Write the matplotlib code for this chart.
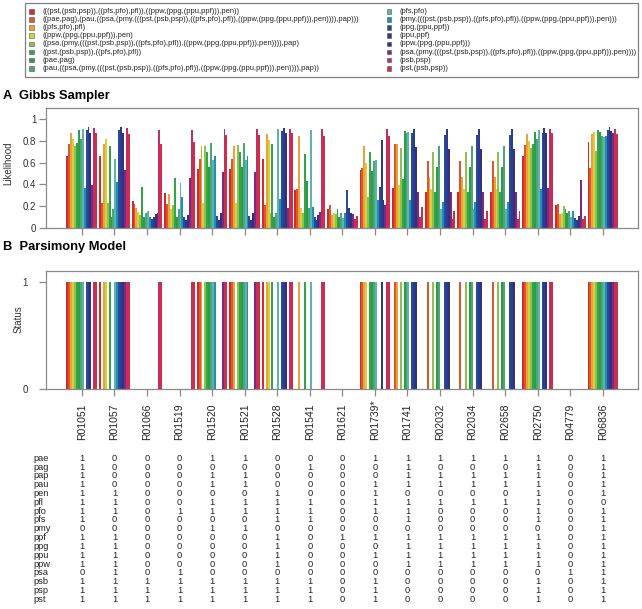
import matplotlib.pyplot as plt
import matplotlib.transforms as mtransforms
from matplotlib.patches import Rectangle

plt.rcParams['font.family'] = ['Liberation Sans', 'DejaVu Sans']

categories = ["R01051", "R01057", "R01066", "R01519", "R01520", "R01521", "R01528", "R01541", "R01621",
              "R01739*", "R01741", "R02032", "R02034", "R02658", "R02750", "R04779", "R06836"]

clades = [
    "(((pst,(psb,psp)),((pfs,pfo),pfl)),((ppw,(ppg,(ppu,ppf))),pen))",
    "((pae,pag),(pau,((psa,(pmy,(((pst,(psb,psp)),((pfs,pfo),pfl)),((ppw,(ppg,(ppu,ppf))),pen)))),pap)))",
    "((pfs,pfo),pfl)",
    "((ppw,(ppg,(ppu,ppf))),pen)",
    "((psa,(pmy,(((pst,(psb,psp)),((pfs,pfo),pfl)),((ppw,(ppg,(ppu,ppf))),pen)))),pap)",
    "((pst,(psb,psp)),((pfs,pfo),pfl))",
    "(pae,pag)",
    "(pau,((psa,(pmy,(((pst,(psb,psp)),((pfs,pfo),pfl)),((ppw,(ppg,(ppu,ppf))),pen)))),pap))",
    "(pfs,pfo)",
    "(pmy,(((pst,(psb,psp)),((pfs,pfo),pfl)),((ppw,(ppg,(ppu,ppf))),pen)))",
    "(ppg,(ppu,ppf))",
    "(ppu,ppf)",
    "(ppw,(ppg,(ppu,ppf)))",
    "(psa,(pmy,(((pst,(psb,psp)),((pfs,pfo),pfl)),((ppw,(ppg,(ppu,ppf))),pen))))",
    "(psb,psp)",
    "(pst,(psb,psp))",
]

colors = ["#d42a2a", "#e0562c", "#e8a33c", "#d9cf3c", "#8cc350", "#35a348", "#2e9a4c", "#48a870",
          "#5cb5aa", "#1f8dbe", "#284a98", "#2c3b8e", "#34307e", "#7a2a80", "#c02f62", "#d62b48"]

# Gibbs sampler likelihood, one row per reaction, one value per clade
likelihood = [
    [0.66, 0.77, 0.87, 0.82, 0.75, 0.78, 0.90, 0.82, 0.91, 0.37, 0.90, 0.93, 0.87, 0.39, 0.92, 0.87],
    [0.66, 0.23, 0.77, 0.82, 0.23, 0.75, 0.10, 0.17, 0.63, 0.42, 0.90, 0.93, 0.87, 0.53, 0.92, 0.86],
    [0.25, 0.22, 0.18, 0.15, 0.12, 0.38, 0.10, 0.14, 0.16, 0.10, 0.08, 0.10, 0.13, 0.14, 0.90, 0.77],
    [0.32, 0.22, 0.31, 0.17, 0.21, 0.46, 0.10, 0.17, 0.41, 0.28, 0.10, 0.07, 0.12, 0.46, 0.90, 0.79],
    [0.54, 0.63, 0.75, 0.23, 0.75, 0.70, 0.56, 0.78, 0.62, 0.66, 0.11, 0.07, 0.14, 0.51, 0.91, 0.85],
    [0.54, 0.63, 0.75, 0.23, 0.76, 0.70, 0.56, 0.78, 0.62, 0.66, 0.11, 0.07, 0.14, 0.51, 0.91, 0.85],
    [0.63, 0.21, 0.86, 0.81, 0.14, 0.77, 0.10, 0.14, 0.91, 0.27, 0.89, 0.92, 0.87, 0.18, 0.91, 0.87],
    [0.35, 0.36, 0.84, 0.18, 0.14, 0.68, 0.43, 0.18, 0.90, 0.19, 0.10, 0.07, 0.12, 0.15, 0.91, 0.84],
    [0.17, 0.21, 0.12, 0.14, 0.13, 0.17, 0.10, 0.14, 0.09, 0.14, 0.35, 0.18, 0.14, 0.13, 0.08, 0.11],
    [0.53, 0.55, 0.75, 0.60, 0.28, 0.70, 0.52, 0.61, 0.62, 0.26, 0.38, 0.81, 0.26, 0.21, 0.91, 0.84],
    [0.37, 0.77, 0.77, 0.39, 0.73, 0.45, 0.89, 0.87, 0.88, 0.26, 0.87, 0.91, 0.74, 0.33, 0.10, 0.19],
    [0.33, 0.61, 0.47, 0.36, 0.70, 0.33, 0.56, 0.75, 0.17, 0.24, 0.85, 0.91, 0.72, 0.33, 0.08, 0.16],
    [0.33, 0.61, 0.47, 0.36, 0.70, 0.33, 0.56, 0.75, 0.17, 0.24, 0.85, 0.91, 0.72, 0.33, 0.08, 0.16],
    [0.33, 0.61, 0.47, 0.36, 0.70, 0.33, 0.56, 0.75, 0.17, 0.24, 0.85, 0.91, 0.72, 0.33, 0.08, 0.16],
    [0.66, 0.76, 0.86, 0.80, 0.73, 0.77, 0.88, 0.82, 0.90, 0.36, 0.87, 0.92, 0.87, 0.37, 0.91, 0.87],
    [0.21, 0.22, 0.13, 0.14, 0.20, 0.17, 0.14, 0.16, 0.10, 0.16, 0.09, 0.07, 0.11, 0.44, 0.08, 0.11],
    [0.79, 0.55, 0.86, 0.88, 0.71, 0.90, 0.88, 0.84, 0.83, 0.84, 0.90, 0.93, 0.89, 0.87, 0.91, 0.86],
]

# parsimony status, same layout
status = [
    [1, 1, 1, 1, 1, 1, 1, 1, 1, 0, 1, 1, 1, 0, 1, 1],
    [1, 0, 1, 1, 0, 1, 0, 0, 1, 1, 1, 1, 1, 1, 1, 1],
    [0, 0, 0, 0, 0, 0, 0, 0, 0, 0, 0, 0, 0, 0, 1, 1],
    [0, 0, 0, 0, 0, 0, 0, 0, 0, 0, 0, 0, 0, 0, 1, 1],
    [1, 1, 1, 0, 1, 1, 1, 1, 1, 1, 0, 0, 0, 1, 1, 1],
    [1, 1, 1, 0, 1, 1, 1, 1, 1, 1, 0, 0, 0, 1, 1, 1],
    [1, 0, 1, 1, 0, 1, 0, 0, 1, 0, 1, 1, 1, 0, 1, 1],
    [0, 0, 1, 0, 0, 1, 0, 0, 1, 0, 0, 0, 0, 0, 1, 1],
    [0, 0, 0, 0, 0, 0, 0, 0, 0, 0, 0, 0, 0, 0, 0, 0],
    [1, 1, 1, 1, 0, 1, 1, 1, 1, 0, 0, 1, 0, 0, 1, 1],
    [0, 1, 1, 0, 1, 0, 1, 1, 1, 0, 1, 1, 1, 0, 0, 0],
    [0, 1, 0, 0, 1, 0, 1, 1, 0, 0, 1, 1, 1, 0, 0, 0],
    [0, 1, 0, 0, 1, 0, 1, 1, 0, 0, 1, 1, 1, 0, 0, 0],
    [0, 1, 0, 0, 1, 0, 1, 1, 0, 0, 1, 1, 1, 0, 0, 0],
    [1, 1, 1, 1, 1, 1, 1, 1, 1, 0, 1, 1, 1, 0, 1, 1],
    [0, 0, 0, 0, 0, 0, 0, 0, 0, 0, 0, 0, 0, 0, 0, 0],
    [1, 1, 1, 1, 1, 1, 1, 1, 1, 1, 1, 1, 1, 1, 1, 1],
]

species = ["pae", "pag", "pap", "pau", "pen", "pfl", "pfo", "pfs", "pmy",
           "ppf", "ppg", "ppu", "ppw", "psa", "psb", "psp", "pst"]

# presence table, one column per reaction (values listed top to bottom)
presence = [
    [1, 1, 1, 1, 1, 1, 1, 1, 0, 1, 1, 1, 1, 0, 1, 1, 1],
    [0, 0, 0, 0, 1, 1, 1, 0, 0, 1, 1, 1, 1, 1, 1, 1, 1],
    [0, 0, 0, 0, 0, 0, 0, 0, 0, 0, 0, 0, 0, 0, 1, 1, 1],
    [0, 0, 0, 0, 0, 0, 1, 0, 0, 0, 0, 0, 0, 1, 1, 1, 1],
    [1, 0, 1, 1, 0, 1, 1, 0, 1, 0, 0, 0, 0, 0, 1, 1, 1],
    [1, 0, 1, 1, 0, 1, 1, 0, 1, 0, 0, 0, 0, 0, 1, 1, 1],
    [0, 0, 0, 0, 1, 1, 1, 1, 0, 1, 1, 1, 1, 0, 1, 1, 1],
    [0, 1, 0, 0, 0, 1, 1, 1, 0, 0, 0, 0, 0, 0, 1, 1, 1],
    [0, 0, 0, 0, 0, 0, 0, 0, 0, 1, 0, 0, 0, 0, 0, 0, 0],
    [1, 0, 0, 1, 1, 1, 1, 0, 0, 1, 0, 1, 0, 0, 1, 1, 1],
    [1, 1, 1, 1, 0, 1, 1, 1, 0, 1, 1, 1, 1, 0, 0, 0, 0],
    [1, 0, 1, 1, 0, 1, 0, 0, 0, 1, 1, 1, 1, 0, 0, 0, 0],
    [1, 0, 1, 1, 0, 1, 0, 0, 0, 1, 1, 1, 1, 0, 0, 0, 0],
    [1, 0, 1, 1, 0, 1, 0, 0, 0, 1, 1, 1, 1, 0, 0, 0, 0],
    [1, 1, 1, 1, 1, 1, 1, 1, 0, 1, 1, 1, 1, 0, 1, 1, 1],
    [0, 0, 0, 0, 0, 0, 0, 0, 0, 0, 0, 0, 0, 1, 0, 0, 0],
    [1, 1, 1, 1, 1, 0, 1, 1, 1, 1, 1, 1, 1, 1, 1, 1, 1],
]

W, H = 642, 609
fig = plt.figure(figsize=(W / 100, H / 100), dpi=100)


def box(l, t, r, b):
    return [l / W, 1 - b / H, (r - l) / W, (b - t) / H]


ax_a = fig.add_axes(box(46, 108, 638, 228))
ax_b = fig.add_axes(box(46, 271, 638, 389))

n = len(clades)
w = 1 / 17
for i in range(n):
    xs = [c + (i - 7.5) * w for c in range(len(categories))]
    ax_a.bar(xs, [row[i] for row in likelihood], width=w, color=colors[i], linewidth=0)
    ax_b.bar(xs, [row[i] for row in status], width=w, color=colors[i], linewidth=0)

for ax in (ax_a, ax_b):
    ax.set_xlim(-1.1, 17.08)
    ax.set_ylim(0, 1.1)
    ax.set_xticks(range(len(categories)))
    ax.set_xticklabels([])
    for s in ax.spines.values():
        s.set_color("#8a8a8a")
        s.set_linewidth(0.9)
    ax.tick_params(color="#8a8a8a", length=5, width=0.9, labelsize=7, labelcolor="#333333", pad=2)

ax_a.set_yticks([0, 0.2, 0.4, 0.6, 0.8, 1])
ax_a.set_yticklabels(["0", "0.2", "0.4", "0.6", "0.8", "1"])
ax_b.set_yticks([0, 1])
ax_b.set_yticklabels(["0", "1"])
ax_b.tick_params(axis="y", pad=8)

fig.text(3 / W, 1 - 99 / H, "A  Gibbs Sampler", fontsize=9.3, fontweight="bold", va="baseline")
fig.text(3 / W, 1 - 250 / H, "B  Parsimony Model", fontsize=9.3, fontweight="bold", va="baseline")
fig.text(8.5 / W, 1 - 163 / H, "Likelihood", rotation=90, ha="center", va="center", fontsize=7, color="#333333")
fig.text(18.5 / W, 1 - 319 / H, "Status", rotation=90, ha="center", va="center", fontsize=7, color="#333333")

# legend box
fig.patches.append(Rectangle((25 / W, 1 - 77 / H), 613 / W, 74 / H, transform=fig.transFigure,
                             fill=False, edgecolor="#808080", linewidth=0.9))
for i, lab in enumerate(clades):
    col, row = divmod(i, 8)
    x0 = [29, 386.5][col]
    yc = 11.3 + row * 8.14
    fig.patches.append(Rectangle((x0 / W, 1 - (yc + 2.3) / H), 4.6 / W, 4.6 / H, transform=fig.transFigure,
                                 facecolor=colors[i], edgecolor="#555555", linewidth=0.4))
    fig.text((x0 + 13.5) / W, 1 - yc / H, lab, fontsize=5.4, va="center", ha="left", color="#222222")

# reaction labels and presence table
trans = mtransforms.blended_transform_factory(ax_b.transData, fig.transFigure)
for c, name in enumerate(categories):
    ax_b.text(c, 1 - 440 / H, name, rotation=90, ha="center", va="bottom", fontsize=7.5,
              color="#222222", transform=trans)

for r, sp in enumerate(species):
    y = 1 - (458.3 + r * 8.81) / H
    fig.text(33 / W, y, sp, fontsize=6.7, va="center", ha="left", color="#222222")
    for c in range(len(categories)):
        ax_b.text(c, y, str(presence[c][r]), fontsize=6.7, ha="center", va="center",
                  color="#222222", transform=trans)

fig.savefig("out.png", dpi=100)
